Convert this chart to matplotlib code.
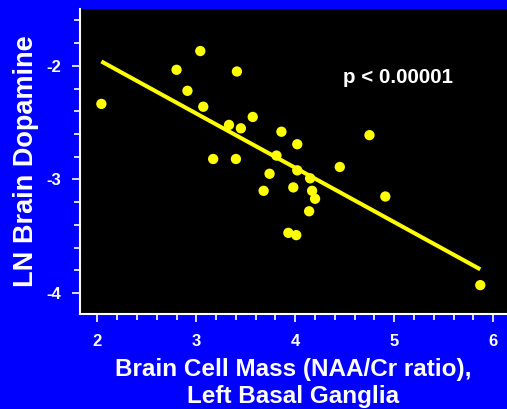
import numpy as np
import matplotlib
matplotlib.use('Agg')
import matplotlib.pyplot as plt
from matplotlib.ticker import MultipleLocator

# data
naa_cr = [2.04, 2.80, 3.04, 3.41, 2.91, 3.07, 3.33, 3.45, 3.57, 3.17,
          3.40, 3.86, 4.02, 3.81, 3.74, 3.68, 3.98, 4.02, 4.15, 4.17,
          4.20, 4.14, 3.93, 4.01, 4.45, 4.75, 4.91, 5.87]
ln_dopamine = [-2.335, -2.035, -1.87, -2.05, -2.22, -2.36, -2.52, -2.55, -2.45, -2.82,
               -2.82, -2.58, -2.69, -2.79, -2.95, -3.10, -3.07, -2.92, -2.99, -3.10,
               -3.17, -3.28, -3.47, -3.49, -2.89, -2.61, -3.15, -3.93]
x_ticks = [2, 3, 4, 5, 6]
y_ticks = [-4, -3, -2]
p_label = 'p < 0.00001'

BLUE = '#0000FF'
YELLOW = '#FFFF00'

plt.rcParams['font.family'] = ['Liberation Sans', 'DejaVu Sans']
plt.rcParams['font.weight'] = 'bold'

fig = plt.figure(figsize=(5.07, 4.09), dpi=100, facecolor=BLUE)
ax = fig.add_axes([0.158, 0.232, 0.842, 0.746])
ax.set_facecolor('black')

x = np.array(naa_cr)
y = np.array(ln_dopamine)
slope, icpt = np.polyfit(x, y, 1)
xf = np.array([x.min(), x.max()])
ax.plot(xf, slope * xf + icpt, color=YELLOW, lw=2.9, solid_capstyle='butt', zorder=2)
ax.scatter(x, y, s=55, color=YELLOW, edgecolors='none', zorder=3)

ax.text(4.48, -2.1, p_label, color='white', fontsize=14.8, fontweight='bold',
        ha='left', va='center')

ax.set_xlim(1.825, 6.14)
ax.set_ylim(-4.185, -1.5)
ax.set_xticks(x_ticks)
ax.set_yticks(y_ticks)
ax.set_xticklabels([str(t) for t in x_ticks])
ax.set_yticklabels([str(t) for t in y_ticks])
ax.xaxis.set_minor_locator(MultipleLocator(0.2))
ax.yaxis.set_minor_locator(MultipleLocator(0.2))

for s in ['top', 'right']:
    ax.spines[s].set_visible(False)
for s in ['left', 'bottom']:
    ax.spines[s].set_color('white')
    ax.spines[s].set_linewidth(1.5)

ax.tick_params(which='both', colors='white', direction='out', width=1.2)
ax.tick_params(which='major', length=6, labelsize=12, pad=8)
ax.tick_params(which='minor', length=4)

ax.set_xlabel('Brain Cell Mass (NAA/Cr ratio),\nLeft Basal Ganglia', color='white',
              fontsize=17.5, fontweight='bold', labelpad=7, linespacing=1.2)
ax.set_ylabel('LN Brain Dopamine', color='white', fontsize=19.5, fontweight='bold',
              labelpad=5)

fig.savefig('out.png', dpi=100, facecolor=BLUE)
